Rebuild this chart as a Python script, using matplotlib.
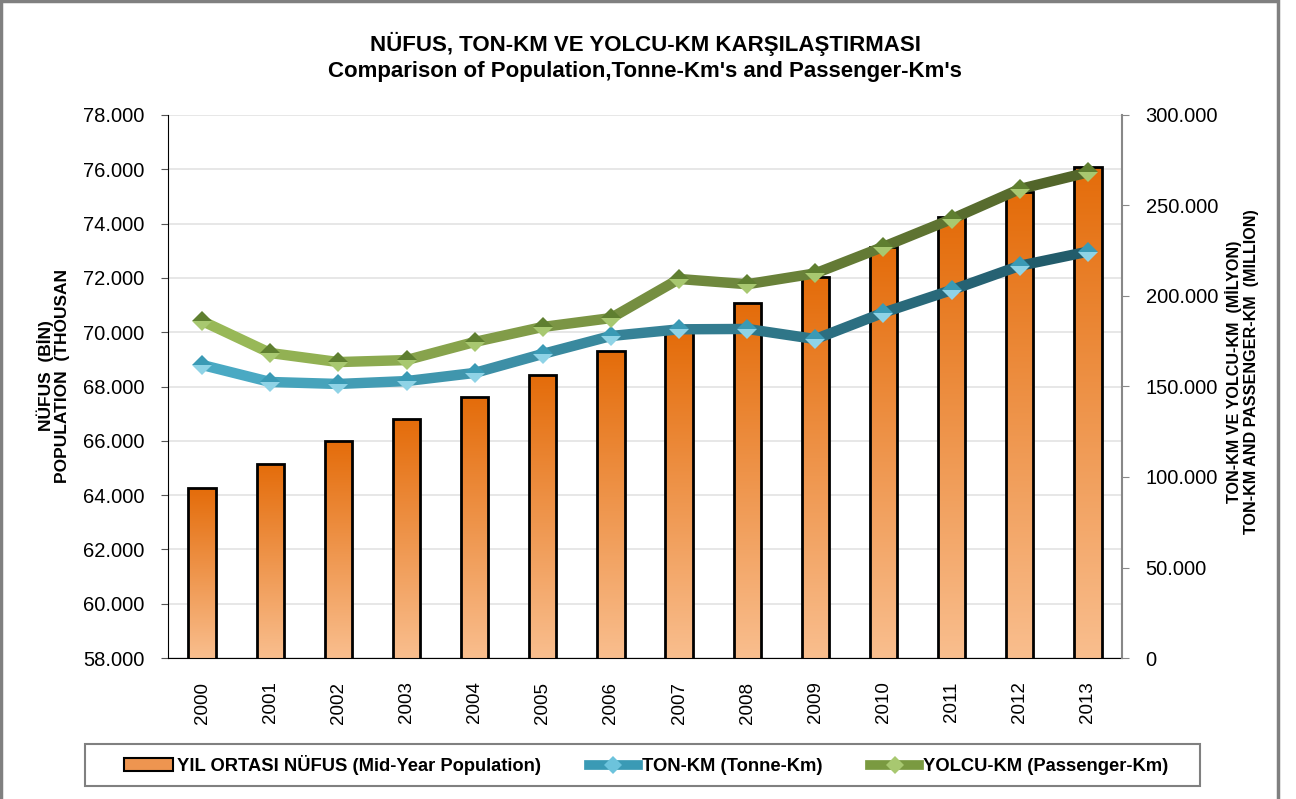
import matplotlib.pyplot as plt
import numpy as np
from matplotlib.collections import LineCollection
from matplotlib.colors import LinearSegmentedColormap
from matplotlib.lines import Line2D
from matplotlib.patches import Patch, Rectangle
from matplotlib.ticker import FuncFormatter, MultipleLocator

plt.rcParams['font.family'] = ['Liberation Sans', 'DejaVu Sans']

# veriler
years = ['2000', '2001', '2002', '2003', '2004', '2005', '2006',
         '2007', '2008', '2009', '2010', '2011', '2012', '2013']
population = [64250, 65160, 66010, 66790, 67600, 68420, 69310,
              69990, 71070, 72050, 73140, 74250, 75180, 76090]
tonne_km = [161900, 152500, 151400, 153000, 157500, 168000, 177900,
            181600, 181800, 176200, 190800, 203300, 216700, 224500]
passenger_km = [186200, 168500, 163500, 164600, 174600, 182900, 187800,
                209400, 206500, 212500, 227200, 242500, 259100, 268300]

title = "NÜFUS, TON-KM VE YOLCU-KM KARŞILAŞTIRMASI\nComparison of Population,Tonne-Km's and Passenger-Km's"
left_label = "NÜFUS  (BİN)\nPOPULATION  (THOUSAN"
right_label = "TON-KM VE YOLCU-KM  (MİLYON)\nTON-KM AND PASSENGER-KM  (MILLION)"
legend_labels = ['YIL ORTASI NÜFUS (Mid-Year Population)', 'TON-KM (Tonne-Km)',
                 'YOLCU-KM (Passenger-Km)']


def dotted(v, pos):
    if v == 0:
        return '0'
    return '{:,.0f}'.format(v).replace(',', '.')


fig = plt.figure(figsize=(12.96, 7.99), dpi=100)
ax = fig.add_axes([168 / 1296, 1 - 658 / 799, (1122 - 168) / 1296, (658 - 115) / 799])
ax2 = ax.twinx()

x = np.arange(len(years))

# 1. cubuklar (gradyan dolgu)
bar_cmap = LinearSegmentedColormap.from_list('bar', ['#F9BE8E', '#E46C0A'])
bars = ax.bar(x, population, width=0.4, bottom=0, facecolor='none',
              edgecolor='black', linewidth=2, zorder=3)
grad = np.linspace(0, 1, 256).reshape(-1, 1)
for b in bars:
    x0, w, h = b.get_x(), b.get_width(), b.get_height()
    im = ax.imshow(grad, cmap=bar_cmap, origin='lower', aspect='auto',
                   extent=[x0, x0 + w, 58000, h], zorder=2)
    im.set_clip_path(b)

ax.set_xlim(-0.5, len(years) - 0.5)
ax.set_ylim(58000, 78000)
ax.yaxis.set_major_locator(MultipleLocator(2000))
ax.yaxis.set_major_formatter(FuncFormatter(dotted))
ax.set_xticks(x)
ax.set_xticklabels(years, rotation=90, fontsize=13.5)
ax.tick_params(axis='x', length=0, pad=17)
ax.tick_params(axis='y', labelsize=14.5, length=5, color='#555555', pad=12)
ax.grid(axis='y', color='#E3E3E3', linewidth=1.2, zorder=0)
ax.set_axisbelow(True)
for s in ['top', 'right']:
    ax.spines[s].set_visible(False)
ax.spines['left'].set_color('black')
ax.spines['bottom'].set_color('black')


# 2. cizgiler (soldan saga renk gecisi)
def gradient_line(axis, ys, c_start, c_end, m_top, m_bot):
    cm = LinearSegmentedColormap.from_list('l', [c_start, c_end])
    segs = [[(x[i], ys[i]), (x[i + 1], ys[i + 1])] for i in range(len(ys) - 1)]
    cols = [cm((i + 0.5) / (len(ys) - 1)) for i in range(len(ys) - 1)]
    lc = LineCollection(segs, colors=cols, linewidths=7.5, capstyle='round',
                        joinstyle='round', zorder=3)
    axis.add_collection(lc)
    axis.plot(x, ys, ls='none', marker='D', ms=10, fillstyle='top',
              markerfacecolor=m_top, markerfacecoloralt=m_bot,
              markeredgewidth=0, zorder=4)


gradient_line(ax2, tonne_km, '#4BACC6', '#215968', '#3A9AB5', '#8FD3E6')
gradient_line(ax2, passenger_km, '#9BBB59', '#4F6228', '#5F7F30', '#A8C870')

ax2.set_ylim(0, 300000)
ax2.yaxis.set_major_locator(MultipleLocator(50000))
ax2.yaxis.set_major_formatter(FuncFormatter(dotted))
ax2.tick_params(axis='y', labelsize=14.5, length=5, color='#888888', pad=12)
for s in ['top', 'left', 'bottom']:
    ax2.spines[s].set_visible(False)
ax2.spines['right'].set_color('#888888')
ax2.spines['right'].set_linewidth(1.5)

# 3. yazilar
fig.text(645 / 1296, 1 - 57 / 799, title, ha='center', va='center',
         fontsize=16, fontweight='bold', linespacing=1.3)
fig.text(53 / 1296, 1 - 376 / 799, left_label, ha='center', va='center',
         rotation=90, fontsize=12.5, fontweight='bold', multialignment='center',
         linespacing=1.05)
fig.text(1242 / 1296, 1 - 372 / 799, right_label, ha='center', va='center',
         rotation=90, fontsize=11.6, fontweight='bold', multialignment='center',
         linespacing=1.1)

# 4. lejant
handles = [Patch(facecolor='#EE9550', edgecolor='black', linewidth=1.5),
           Line2D([], [], color='#3A9AB5', lw=7, marker='D', ms=9,
                  markerfacecolor='#6CC3DC', markeredgewidth=0),
           Line2D([], [], color='#7A9A40', lw=7, marker='D', ms=9,
                  markerfacecolor='#A8C870', markeredgewidth=0)]
fig.legend(handles, legend_labels, loc='center', bbox_to_anchor=(646 / 1296, 1 - 765 / 799),
           ncol=3, frameon=False, prop={'weight': 'bold', 'size': 13.2},
           handlelength=2.7, handletextpad=0.2, columnspacing=2.6)
fig.patches.append(Rectangle((85 / 1296, 1 - 786 / 799), 1115 / 1296, 42 / 799,
                             transform=fig.transFigure, fill=False,
                             edgecolor='#808080', linewidth=1.5))
# cerceve
fig.patches.append(Rectangle((1 / 1296, -0.05), 1277 / 1296, 1.05 - 1 / 799,
                             transform=fig.transFigure, fill=False,
                             edgecolor='#808080', linewidth=2.5))

plt.savefig('out.png', dpi=100)
